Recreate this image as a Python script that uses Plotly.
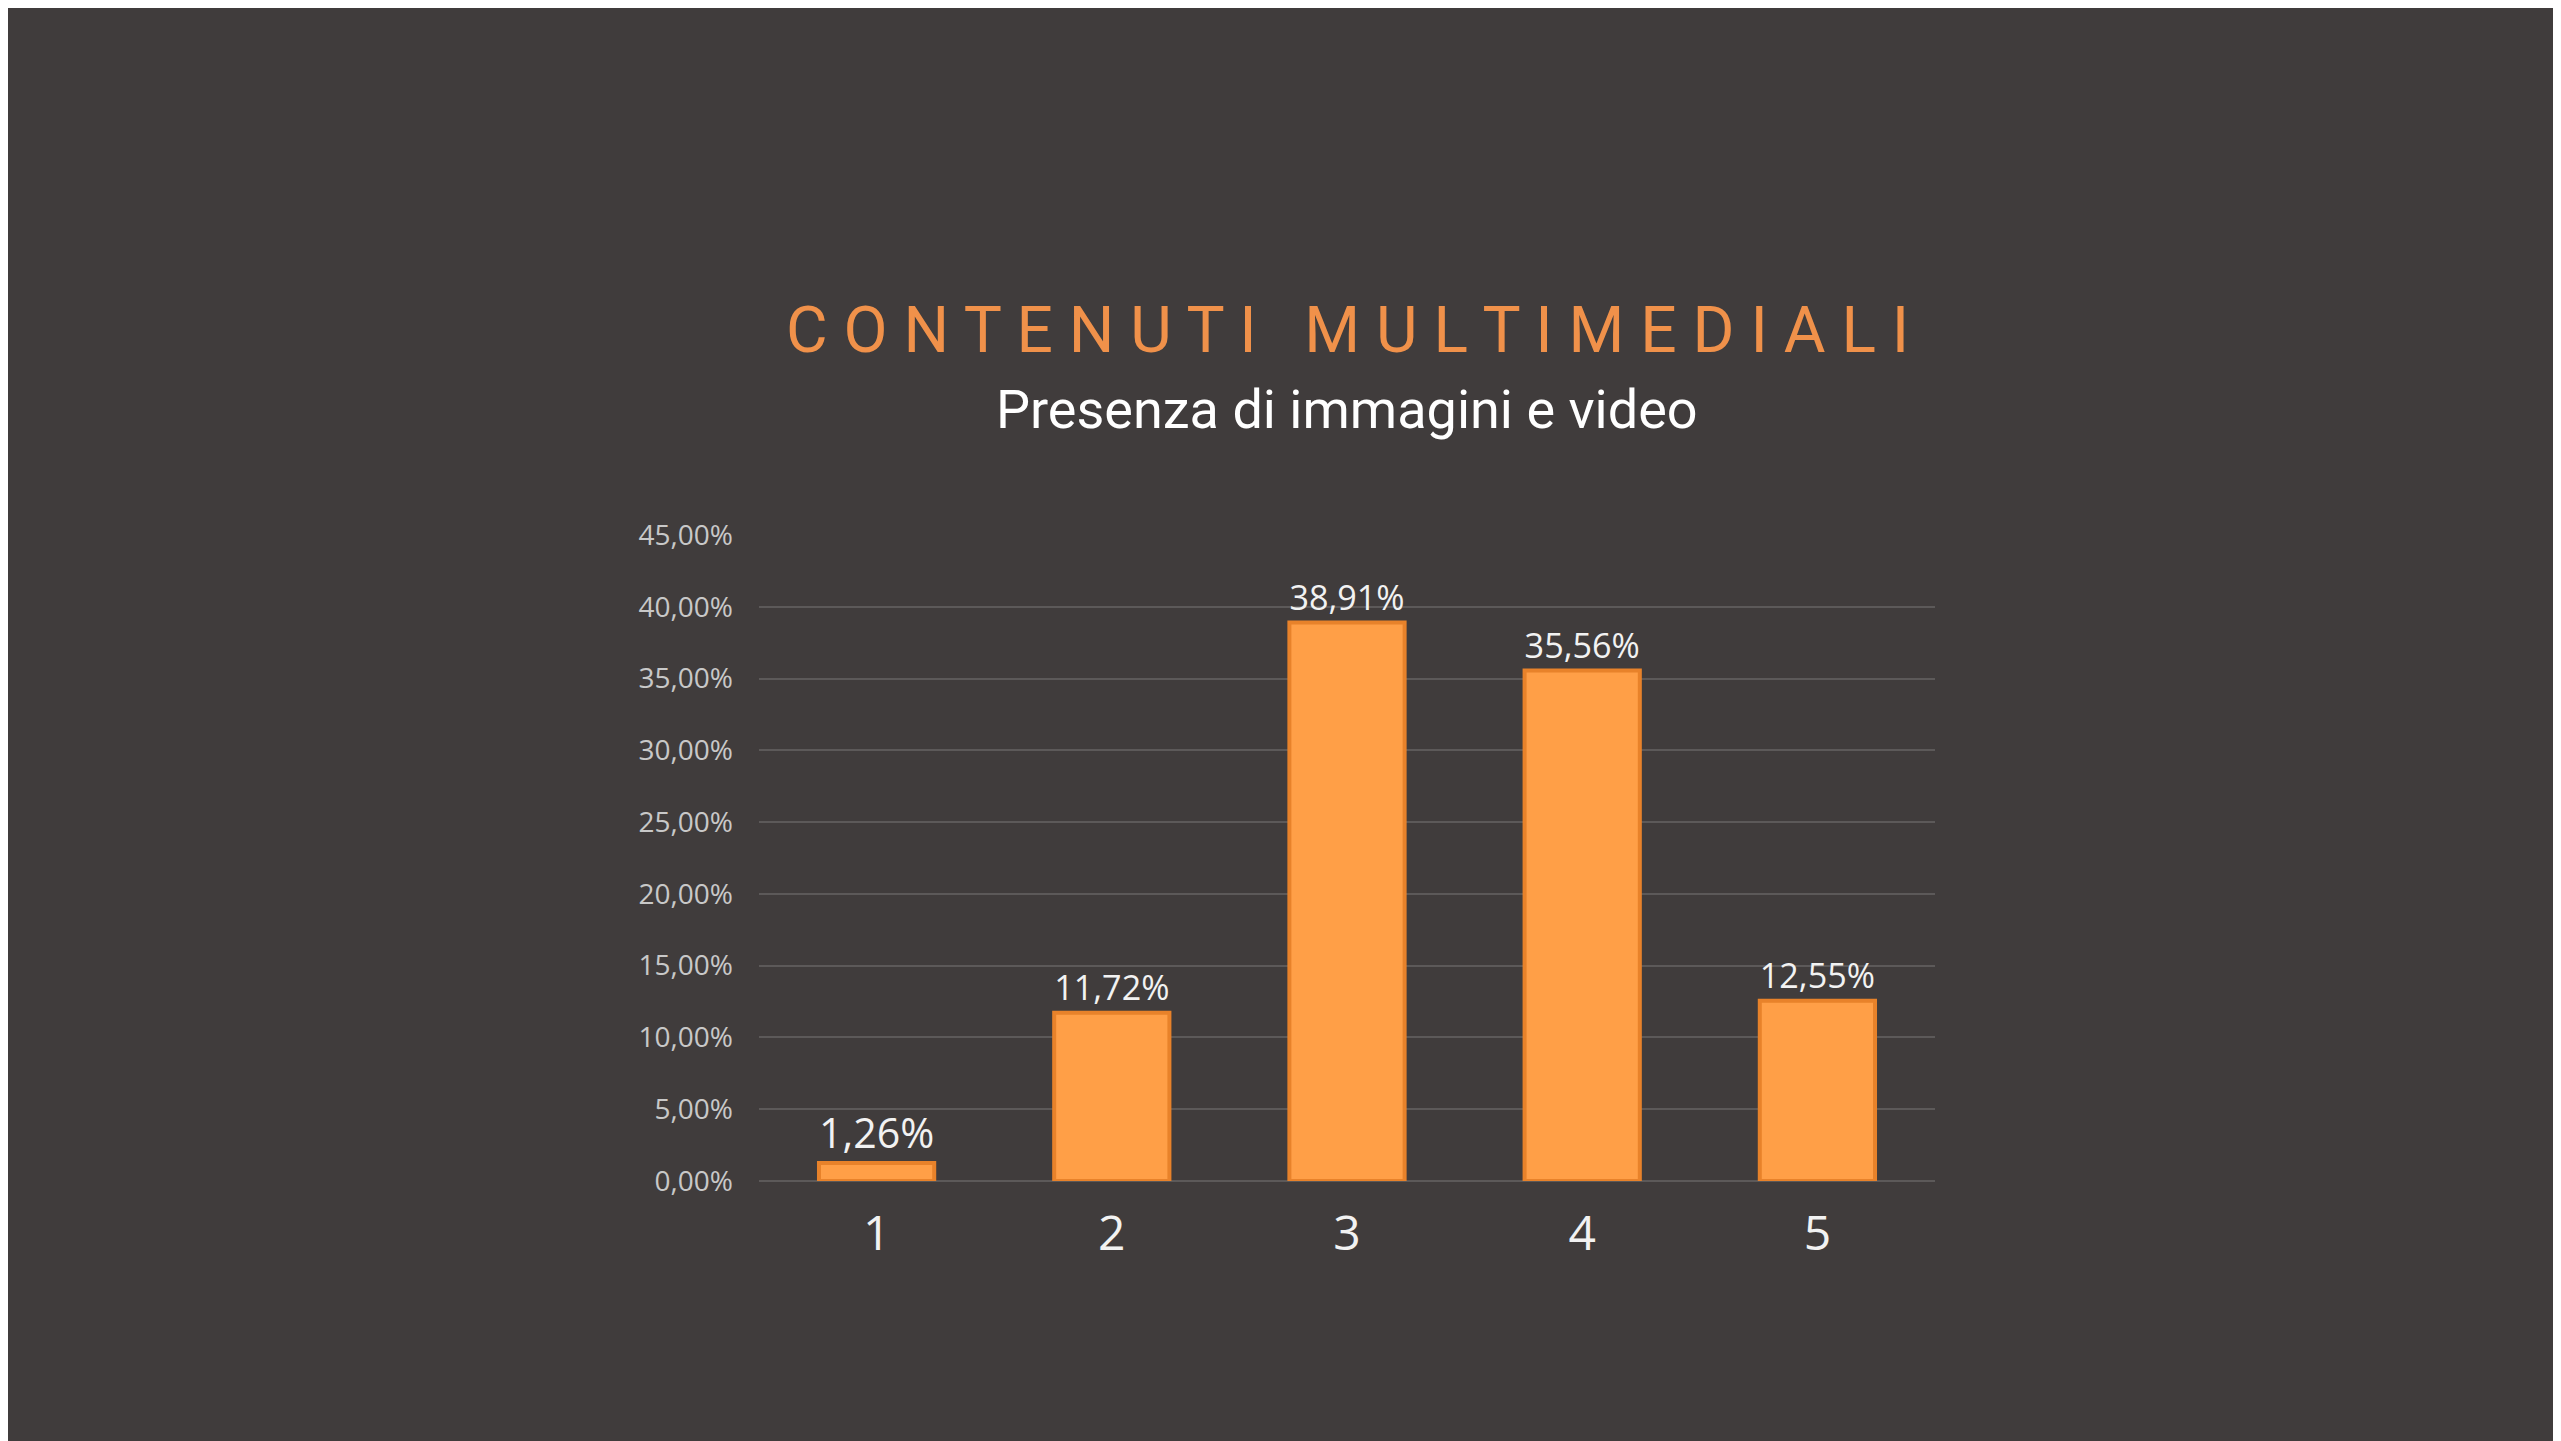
import plotly.graph_objects as go

categories = ["1", "2", "3", "4", "5"]
values = [0.0126, 0.1172, 0.3891, 0.3556, 0.1255]
labels = ["1,26%", "11,72%", "38,91%", "35,56%", "12,55%"]
title = "C O N T E N U T I   M U L T I M E D I A L I"
subtitle = "Presenza di immagini e video"

bg = "#403c3c"

fig = go.Figure(go.Bar(
    x=categories, y=values, text=labels, textposition="outside",
    textfont=dict(family="Open Sans", size=46, color="#f2f2f2"),
    marker=dict(color="#ff9f47", line=dict(color="#e8822a", width=4)),
    width=0.49, cliponaxis=False,
))

# plot area is 646 px tall, starting 268 px above the bottom
fig.update_layout(
    width=2561, height=1441,
    margin=dict(l=751, r=634, t=527, b=268),
    paper_bgcolor=bg, plot_bgcolor=bg,
    separators=",.",
    showlegend=False,
    annotations=[
        dict(text=title, x=0.5, y=1.378, xref="paper", yref="paper",
             showarrow=False, font=dict(family="Roboto", size=64, color="#f0914a")),
        dict(text=subtitle, x=0.5, y=1.246, xref="paper", yref="paper",
             showarrow=False, font=dict(family="Roboto", size=54, color="#ffffff")),
    ],
)
fig.update_yaxes(range=[0, 0.45], dtick=0.05, tickformat=".2%",
                 gridcolor="#5c5959", gridwidth=2, zeroline=True, zerolinecolor="#5c5959",
                 zerolinewidth=2, ticks="", ticklabelstandoff=25,
                 tickfont=dict(family="Open Sans", size=28, color="#c8c8c8"))
fig.update_xaxes(showgrid=False, ticks="", ticklabelstandoff=20,
                 tickfont=dict(family="Open Sans", size=48, color="#f2f2f2"))

fig.write_html("out.html")
